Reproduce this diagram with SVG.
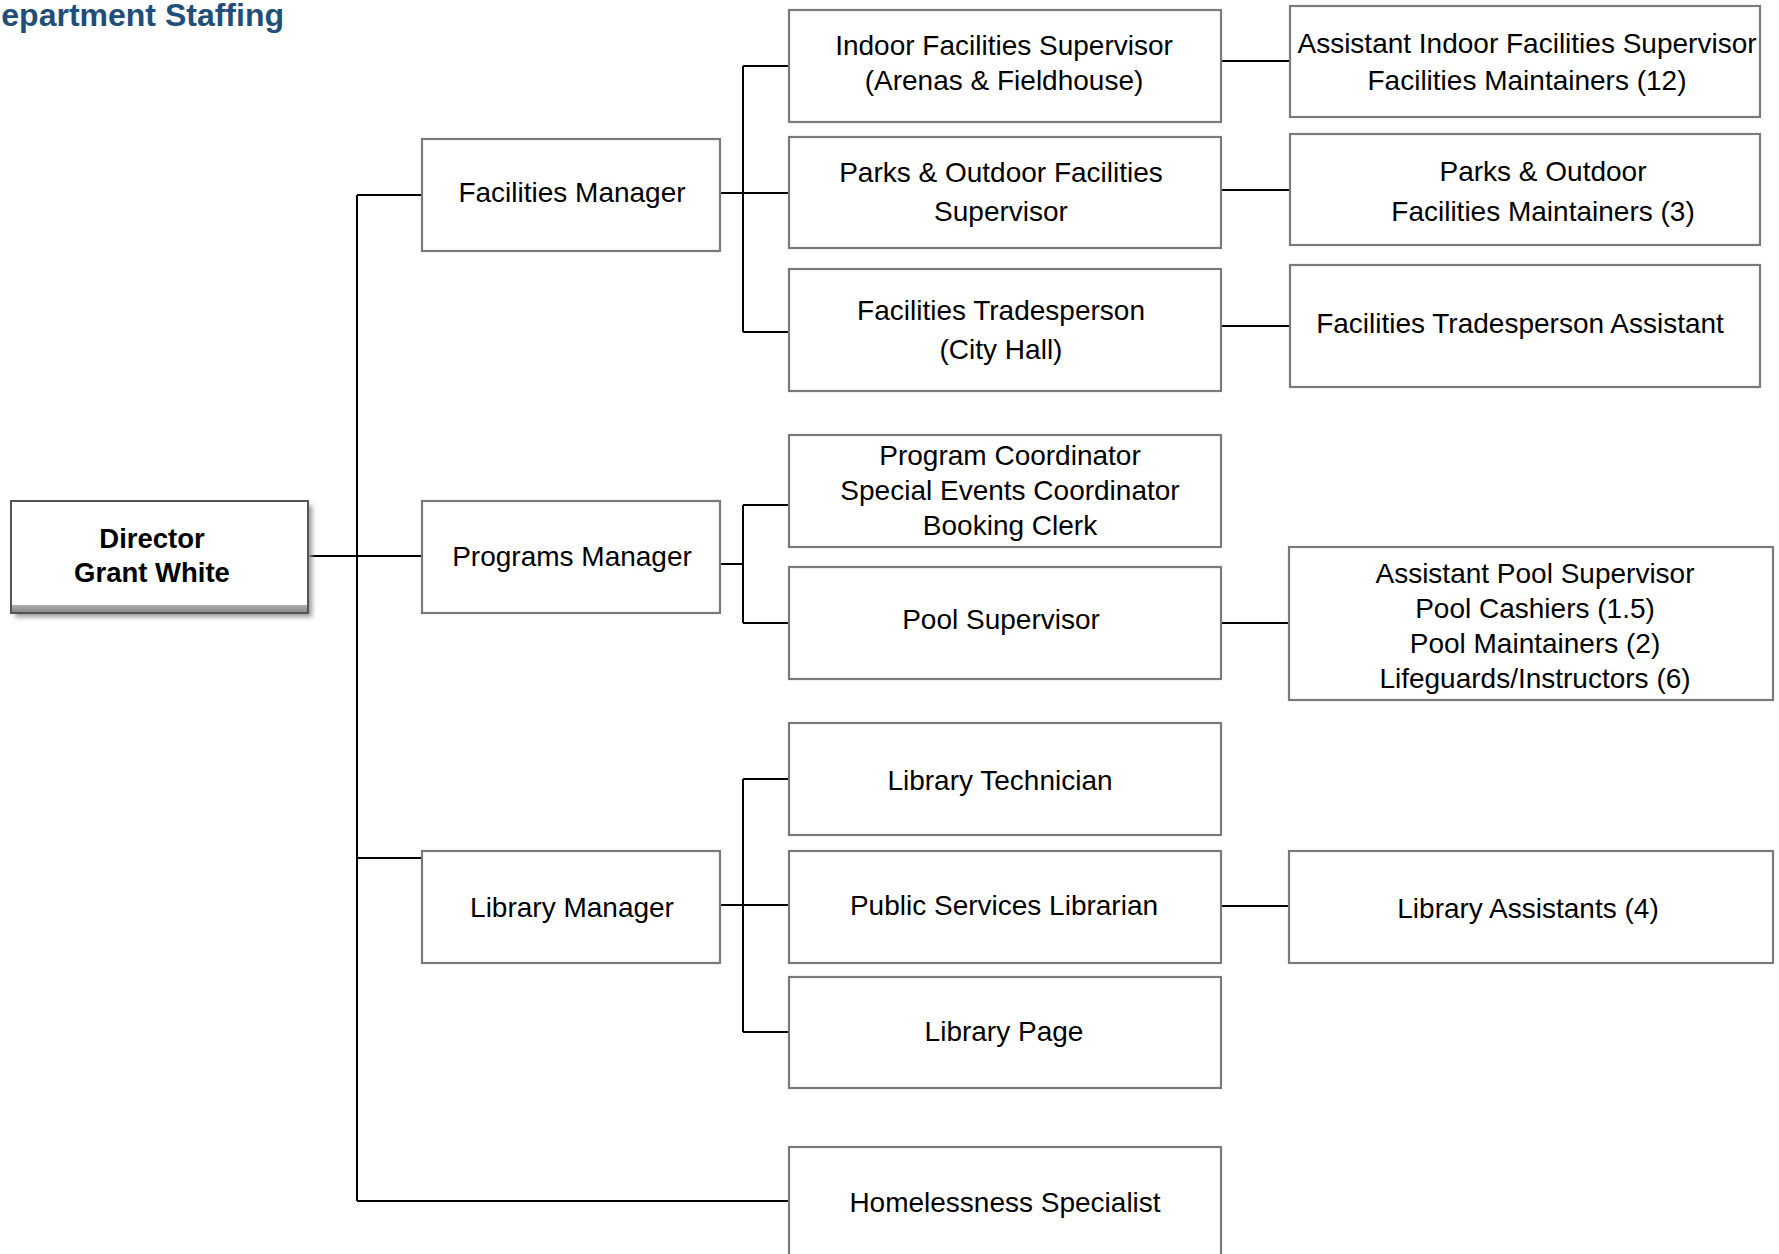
<svg xmlns="http://www.w3.org/2000/svg" width="1779" height="1254" viewBox="0 0 1779 1254">
<defs>
<style>
.box{fill:#ffffff;stroke:#7a7a7a;stroke-width:2.2}
.t{font-family:"Liberation Sans",Arial,sans-serif;font-size:28px;fill:#000;text-anchor:middle}
.b{font-weight:bold;font-size:27.5px}
.c{fill:none;stroke:#000;stroke-width:2}
</style>
<filter id="sh" x="-10%" y="-20%" width="125%" height="150%">
<feGaussianBlur stdDeviation="2.5"/>
</filter>
<linearGradient id="bev" x1="0" y1="0" x2="0" y2="1">
<stop offset="0" stop-color="#b0b0b0"/>
<stop offset="1" stop-color="#8a8a8a"/>
</linearGradient>
</defs>
<rect width="1779" height="1254" fill="#ffffff"/>
<text x="284" y="26" font-family="'Liberation Sans',Arial,sans-serif" font-size="32" font-weight="bold" fill="#1F4E79" text-anchor="end">epartment Staffing</text>

<g id="connectors">
<path class="c" d="M357 195 V1201"/>
<path class="c" d="M309 556 H422"/>
<path class="c" d="M357 195 H422"/>
<path class="c" d="M357 858 H422"/>
<path class="c" d="M357 1201 H789"/>
<path class="c" d="M743 66 V332"/>
<path class="c" d="M743 66 H789 M720 193 H789 M743 332 H789"/>
<path class="c" d="M1221 61 H1290 M1221 190 H1290 M1221 326 H1290"/>
<path class="c" d="M743 505 V623"/>
<path class="c" d="M720 564 H743 M743 505 H789 M743 623 H789"/>
<path class="c" d="M1221 623 H1289"/>
<path class="c" d="M743 779 V1032"/>
<path class="c" d="M743 779 H789 M720 905 H789 M743 1032 H789"/>
<path class="c" d="M1221 906 H1289"/>
</g>

<g id="director">
<rect x="15" y="505" width="297" height="112" fill="#9a9a9a" filter="url(#sh)"/>
<rect x="11" y="501" width="297" height="112" fill="#ffffff" stroke="#555" stroke-width="2"/>
<rect x="12" y="605" width="295" height="7" fill="url(#bev)"/>
<text class="t b" x="152" y="548">Director</text>
<text class="t b" x="152" y="582">Grant White</text>
</g>

<g id="facilities-manager">
<rect class="box" x="422" y="139" width="298" height="112"/>
<text class="t" x="572" y="202">Facilities Manager</text>
</g>
<g id="programs-manager">
<rect class="box" x="422" y="501" width="298" height="112"/>
<text class="t" x="572" y="566">Programs Manager</text>
</g>
<g id="library-manager">
<rect class="box" x="422" y="851" width="298" height="112"/>
<text class="t" x="572" y="917">Library Manager</text>
</g>

<g id="indoor-supervisor">
<rect class="box" x="789" y="10" width="432" height="112"/>
<text class="t" x="1004" y="55">Indoor Facilities Supervisor</text>
<text class="t" x="1004" y="90">(Arenas &amp; Fieldhouse)</text>
</g>
<g id="parks-supervisor">
<rect class="box" x="789" y="137" width="432" height="111"/>
<text class="t" x="1001" y="182">Parks &amp; Outdoor Facilities</text>
<text class="t" x="1001" y="221">Supervisor</text>
</g>
<g id="tradesperson">
<rect class="box" x="789" y="269" width="432" height="122"/>
<text class="t" x="1001" y="320">Facilities Tradesperson</text>
<text class="t" x="1001" y="359">(City Hall)</text>
</g>

<g id="asst-indoor">
<rect class="box" x="1290" y="6" width="470" height="111"/>
<text class="t" x="1527" y="53">Assistant Indoor Facilities Supervisor</text>
<text class="t" x="1527" y="90">Facilities Maintainers (12)</text>
</g>
<g id="parks-maintainers">
<rect class="box" x="1290" y="134" width="470" height="111"/>
<text class="t" x="1543" y="181">Parks &amp; Outdoor</text>
<text class="t" x="1543" y="221">Facilities Maintainers (3)</text>
</g>
<g id="trades-assistant">
<rect class="box" x="1290" y="265" width="470" height="122"/>
<text class="t" x="1520" y="333">Facilities Tradesperson Assistant</text>
</g>

<g id="program-coordinator">
<rect class="box" x="789" y="435" width="432" height="112"/>
<text class="t" x="1010" y="465">Program Coordinator</text>
<text class="t" x="1010" y="500">Special Events Coordinator</text>
<text class="t" x="1010" y="535">Booking Clerk</text>
</g>
<g id="pool-supervisor">
<rect class="box" x="789" y="567" width="432" height="112"/>
<text class="t" x="1001" y="629">Pool Supervisor</text>
</g>
<g id="pool-staff">
<rect class="box" x="1289" y="547" width="484" height="153"/>
<text class="t" x="1535" y="583">Assistant Pool Supervisor</text>
<text class="t" x="1535" y="618">Pool Cashiers (1.5)</text>
<text class="t" x="1535" y="653">Pool Maintainers (2)</text>
<text class="t" x="1535" y="688">Lifeguards/Instructors (6)</text>
</g>

<g id="library-technician">
<rect class="box" x="789" y="723" width="432" height="112"/>
<text class="t" x="1000" y="790">Library Technician</text>
</g>
<g id="public-services-librarian">
<rect class="box" x="789" y="851" width="432" height="112"/>
<text class="t" x="1004" y="915">Public Services Librarian</text>
</g>
<g id="library-page">
<rect class="box" x="789" y="977" width="432" height="111"/>
<text class="t" x="1004" y="1041">Library Page</text>
</g>
<g id="library-assistants">
<rect class="box" x="1289" y="851" width="484" height="112"/>
<text class="t" x="1528" y="918">Library Assistants (4)</text>
</g>
<g id="homelessness-specialist">
<rect class="box" x="789" y="1147" width="432" height="120"/>
<text class="t" x="1005" y="1212">Homelessness Specialist</text>
</g>
</svg>
